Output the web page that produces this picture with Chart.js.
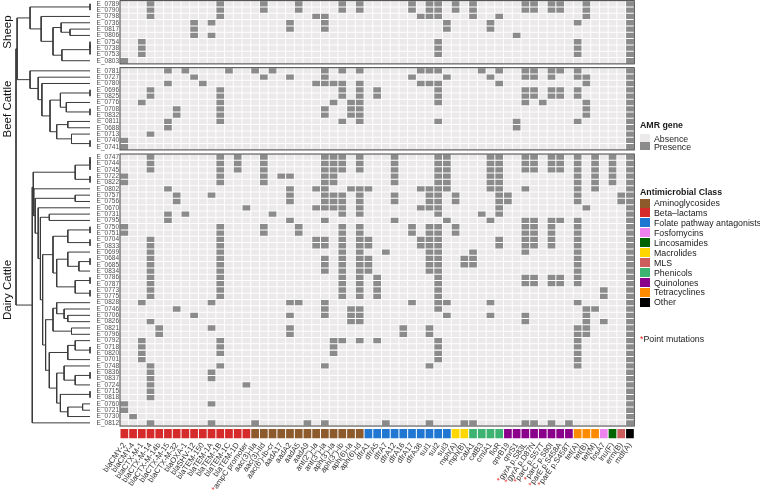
<!DOCTYPE html>
<html lang="en">
<head>
<meta charset="UTF-8">
<title>AMR gene heatmap</title>
<script src="https://cdn.jsdelivr.net/npm/chart.js"></script>
<style>
  body { margin: 0; width: 760px; height: 492px; position: relative; overflow: hidden; background: #fff;
         font-family: 'Liberation Sans', Arial, sans-serif; }
  #tree { position: absolute; left: 0; top: 0; }
  #heat { position: absolute; left: 60px; top: 0; }
  .host { position: absolute; left: 7px; transform: translate(-50%, -50%) rotate(-90deg); font-size: 11.5px; color: #111; white-space: nowrap; }
  .lg { position: absolute; left: 640px; font-size: 8.8px; color: #1a1a1a; white-space: nowrap; line-height: 1; }
  .lg b { font-weight: bold; }
  .sw { position: absolute; left: 0; width: 10px; }
</style>
</head>
<body>
<canvas id="tree" width="95" height="492"></canvas>
<canvas id="heat" width="586" height="492"></canvas>
<script>
Chart.defaults.font.family = "'Liberation Sans', Arial, sans-serif";

// columns (genes / point mutations)
const genes = ['blaCMY-2', 'blaCMY-4', 'blaCTX-M-1', 'blaCTX-M-14', 'blaCTX-M-14b', 'blaCTX-M-15', 'blaCTX-M-32',
  'blaOXA-1', 'blaSHV-12', 'blaTEM-150', 'blaTEM-1A', 'blaTEM-1B', 'blaTEM-1C', 'blaTEM-1D', 'ampC promoter',
  "aac(3)-IIa", "aac(3)-IId", "aac(6')-Ib-cr", 'aadA17', 'aadA2', 'aadA5', 'aadA9', "ant(2'')-Ia", "ant(3'')-Ia",
  "aph(3')-Ia", "aph(3'')-Ib", 'aph(6)-Ia', 'aph(6)-Id',
  'dfrA1', 'dfrA5', 'dfrA7', 'dfrA12', 'dfrA16', 'dfrA17', 'dfrA36', 'sul1', 'sul2', 'sul3',
  'mph(A)', 'mph(B)', 'catA1', 'catB3', 'cmlA1', 'floR',
  'qnrB19', 'qnrS1', 'gyrA p.S83L', 'gyrA p.D87N', 'parC p.S57T', 'parC p.S80I', 'parE p.S458A', 'parE p.S458T',
  'tet(A)', 'tet(B)', 'tet(M)', 'fosA7', 'lnu(F)', 'erm(B)', 'mdf(A)'];

const pointMutations = ['ampC promoter', 'gyrA p.S83L', 'gyrA p.D87N', 'parC p.S57T', 'parC p.S80I', 'parE p.S458A', 'parE p.S458T'];

const classNames = ['Aminoglycosides', 'Beta\u2013lactams', 'Folate pathway antagonists', 'Fosfomycins', 'Lincosamides',
  'Macrolides', 'MLS', 'Phenicols', 'Quinolones', 'Tetracyclines', 'Other'];
const classColors = ['#8c5a2b', '#d62b2b', '#1f77d2', '#ee82ee', '#006400', '#ffd700', '#cd5c5c', '#3cb371', '#8b008b', '#ff8c00', '#000000'];

// class index of each gene (same order as genes)
const geneClass = [1, 1, 1, 1, 1, 1, 1, 1, 1, 1, 1, 1, 1, 1, 1,
  0, 0, 0, 0, 0, 0, 0, 0, 0, 0, 0, 0, 0,
  2, 2, 2, 2, 2, 2, 2, 2, 2, 2,
  5, 5, 7, 7, 7, 7,
  8, 8, 8, 8, 8, 8, 8, 8,
  9, 9, 9, 3, 4, 6, 10];

// isolates (rows) and the genes present in each (column indices)
const sheepIsolates = ['E_0789', 'E_0790', 'E_0798', 'E_0736', 'E_0817', 'E_0806', 'E_0754', 'E_0738', 'E_0753', 'E_0803'];
const sheepGenes = [
  [3, 11, 16, 20, 25, 27, 33, 35, 36, 38, 40, 46, 47, 49, 50, 53, 58],
  [3, 11, 16, 20, 25, 27, 33, 35, 36, 38, 40, 46, 47, 49, 50, 53, 58],
  [3, 11, 22, 23, 34, 35, 36, 40, 43, 53, 58],
  [8, 10, 19, 23, 37, 42, 52, 58],
  [8, 19, 23, 37, 42, 58],
  [8, 10, 45, 58],
  [2, 36, 52, 58],
  [2, 36, 52, 58],
  [2, 36, 52, 58],
  [0, 58]];

const beefIsolates = ['E_0781', 'E_0727', 'E_0780', 'E_0696', 'E_0825', 'E_0776', 'E_0708', 'E_0832', 'E_0811', 'E_0688',
  'E_0713', 'E_0740', 'E_0741'];
const beefGenes = [
  [5, 7, 12, 15, 17, 23, 25, 27, 34, 35, 36, 41, 43, 46, 47, 49, 50, 52, 58],
  [8, 16, 19, 23, 33, 37, 42, 46, 47, 49, 52, 53, 58],
  [5, 9, 22, 23, 24, 25, 27, 34, 35, 36, 43, 53, 58],
  [3, 11, 25, 27, 29, 36, 46, 47, 49, 50, 52, 58],
  [3, 11, 25, 27, 29, 36, 46, 47, 49, 50, 52, 58],
  [2, 11, 24, 26, 27, 36, 46, 48, 53, 58],
  [6, 11, 23, 26, 27, 53, 58],
  [6, 11, 23, 26, 27, 53, 58],
  [5, 11, 25, 27, 36, 45, 52, 58],
  [5, 45, 58],
  [3, 58],
  [0, 58],
  [0, 58]];

const dairyIsolates = ['E_0747', 'E_0744', 'E_0745', 'E_0722', 'E_0822', 'E_0802', 'E_0757', 'E_0756', 'E_0670', 'E_0731',
  'E_0795', 'E_0750', 'E_0751', 'E_0704', 'E_0833', 'E_0699', 'E_0684', 'E_0685', 'E_0834', 'E_0786', 'E_0787', 'E_0773',
  'E_0775', 'E_0828', 'E_0746', 'E_0706', 'E_0826', 'E_0821', 'E_0796', 'E_0792', 'E_0718', 'E_0820', 'E_0701', 'E_0748',
  'E_0836', 'E_0837', 'E_0724', 'E_0715', 'E_0818', 'E_0760', 'E_0721', 'E_0730', 'E_0812'];
const dairyGenes = [
  [3, 11, 13, 16, 23, 24, 25, 27, 31, 36, 37, 42, 43, 46, 47, 49, 50, 52, 54, 56, 58],
  [3, 11, 13, 16, 23, 24, 25, 27, 31, 36, 37, 42, 43, 46, 47, 49, 50, 52, 54, 56, 58],
  [3, 11, 13, 16, 23, 24, 25, 27, 31, 36, 37, 42, 43, 46, 47, 49, 50, 52, 54, 56, 58],
  [0, 11, 16, 18, 19, 23, 24, 31, 36, 37, 42, 43, 52, 54, 56, 58],
  [0, 11, 16, 23, 24, 31, 36, 37, 42, 43, 52, 54, 56, 58],
  [5, 19, 22, 23, 26, 27, 28, 34, 35, 36, 37, 42, 43, 46, 52, 54, 58],
  [6, 10, 19, 23, 24, 25, 27, 31, 35, 36, 38, 43, 44, 52, 57, 58],
  [6, 19, 23, 24, 25, 27, 31, 35, 36, 38, 43, 44, 52, 57, 58],
  [14, 22, 23, 24, 25, 27, 34, 35, 36, 43, 53, 58],
  [5, 7, 17, 25, 27, 36, 41, 43, 58],
  [5, 19, 23, 31, 37, 42, 46, 47, 49, 50, 52, 58],
  [0, 11, 16, 20, 25, 27, 33, 35, 36, 38, 46, 47, 49, 52, 58],
  [0, 11, 16, 20, 25, 27, 33, 35, 36, 38, 46, 47, 49, 52, 58],
  [3, 11, 22, 23, 25, 27, 28, 34, 35, 36, 43, 46, 47, 49, 52, 58],
  [3, 11, 22, 23, 25, 27, 28, 34, 35, 36, 43, 46, 47, 49, 52, 58],
  [3, 11, 25, 27, 30, 35, 36, 40, 46, 52, 58],
  [3, 11, 23, 25, 27, 28, 35, 36, 39, 40, 52, 58],
  [3, 11, 23, 25, 27, 28, 35, 36, 39, 40, 52, 58],
  [3, 11, 23, 25, 27, 28, 35, 36, 52, 58],
  [3, 11, 25, 27, 29, 36, 46, 47, 49, 50, 52, 58],
  [3, 11, 25, 27, 29, 36, 46, 47, 49, 50, 52, 58],
  [3, 11, 25, 27, 29, 36, 55, 58],
  [3, 11, 25, 27, 29, 36, 55, 58],
  [2, 10, 19, 20, 23, 33, 36, 37, 42, 52, 58],
  [6, 23, 26, 27, 36, 53, 54, 58],
  [8, 19, 23, 26, 27, 37, 42, 46, 53, 58],
  [3, 26, 27, 46, 53, 55, 58],
  [4, 10, 19, 32, 35, 52, 53, 58],
  [4, 19, 32, 35, 52, 53, 58],
  [2, 11, 24, 25, 27, 29, 36, 52, 58],
  [2, 11, 24, 36, 52, 58],
  [2, 11, 24, 36, 52, 58],
  [2, 36, 52, 58],
  [3, 11, 23, 35, 52, 58],
  [3, 10, 58],
  [3, 10, 58],
  [3, 14, 58],
  [3, 58],
  [3, 58],
  [0, 10, 58],
  [0, 58],
  [1, 58],
  [3, 10, 15, 21, 23, 30, 35, 39, 40, 46, 47, 49, 51, 58]];

// dendrogram: [merge height, left, right], leaves are isolate names
const sheepTree = [0.81, [0, 'E_0789', 'E_0790'],
  [0.66, 'E_0798', [0.5, [0.39, 'E_0736', [0.27, 'E_0817', 'E_0806']],
    [0.38, [0, [0, 'E_0754', 'E_0738'], 'E_0753'], 'E_0803']]]];
const beefTree = [0.81, 'E_0781', [0.7, 'E_0727', [0.65, 'E_0780',
  [0.54, [0.4, [0, 'E_0696', 'E_0825'], [0.32, 'E_0776', [0, 'E_0708', 'E_0832']]],
    [0.45, [0.3, 'E_0811', 'E_0688'], [0.25, 'E_0713', [0, 'E_0740', 'E_0741']]]]]]];
const dairyTop = [0.2, [0, [0, 'E_0747', 'E_0744'], 'E_0745'], [0, 'E_0722', 'E_0822']];
const dairyMid = [0.5, [0.3, [0, 'E_0750', 'E_0751'], [0, 'E_0704', 'E_0833']],
  [0.45, [0.3, 'E_0699', [0.15, [0, 'E_0684', 'E_0685'], 'E_0834']], [0.2, [0, 'E_0786', 'E_0787'], [0, 'E_0773', 'E_0775']]]];
const dairyLowA = [0.5, [0.45, 'E_0828', [0.35, 'E_0746', [0.3, 'E_0706', 'E_0826']]], [0.25, 'E_0821', 'E_0796']];
const dairyLowB = [0.55, [0.3, [0.2, 'E_0792', [0, 'E_0718', 'E_0820']], 'E_0701'],
  [0.45, [0.35, 'E_0748', [0.2, [0, 'E_0836', 'E_0837'], 'E_0724']],
    [0.4, [0, 'E_0715', 'E_0818'], [0.3, [0.1, 'E_0760', 'E_0721'], 'E_0730']]]];
const dairyRest = [0.7, 'E_0670', [0.67, [0.55, 'E_0731', 'E_0795'], [0.64, dairyMid, [0.6, dairyLowA, dairyLowB]]]];
const dairyMain = [0.77, dairyTop, [0.76, 'E_0802', [0.74, [0.2, 'E_0757', 'E_0756'], dairyRest]]];
const dairyTree = [0.78, dairyMain, 'E_0812'];
const rootTree = [1.0, [0.985, sheepTree, beefTree], dairyTree];

// ---- layout of the row axis (in row units) ----
const hosts = [
  { name: 'Sheep', isolates: sheepIsolates, genes: sheepGenes, start: 0 },
  { name: 'Beef Cattle', isolates: beefIsolates, genes: beefGenes, start: 10.6 },
  { name: 'Dairy Cattle', isolates: dairyIsolates, genes: dairyGenes, start: 24.25 }
];
const barTop = 67.72, barBottom = 69.2;
const yMin = -0.1, yMax = 69.3;

const rows = [];
hosts.forEach(h => {
  h.isolates.forEach((iso, i) => {
    rows.push({ iso: iso, genes: h.genes[i], top: h.start + i });
  });
});
const rowCenter = {};
rows.forEach(r => { rowCenter[r.iso] = r.top + 0.5; });

const ABSENT = '#ebe9e9';
const PRESENT = '#8b8b8b';

const cellSets = rows.map(r => ({
  data: genes.map(() => [r.top + 0.08, r.top + 0.92]),
  backgroundColor: genes.map((g, c) => (r.genes.includes(c) ? PRESENT : ABSENT))
}));
const classBar = {
  data: genes.map(() => [barTop, barBottom]),
  backgroundColor: geneClass.map(k => classColors[k])
};

const panelBorders = {
  id: 'panelBorders',
  afterDatasetsDraw(chart) {
    const ctx = chart.ctx;
    const a = chart.chartArea;
    const y = chart.scales.y;
    ctx.save();
    ctx.strokeStyle = '#3f3f3f';
    ctx.lineWidth = 1;
    hosts.forEach(h => {
      const t = y.getPixelForValue(h.start);
      const b = y.getPixelForValue(h.start + h.isolates.length);
      ctx.strokeRect(a.left, t, a.right - a.left, b - t);
    });
    ctx.restore();
  }
};

const mutationStars = {
  id: 'mutationStars',
  afterDraw(chart) {
    const ctx = chart.ctx;
    const items = chart.scales.x.getLabelItems();
    items.forEach(it => {
      if (!pointMutations.includes(it.label)) return;
      const tx = it.options.translation[0];
      const ty = it.options.translation[1];
      ctx.save();
      ctx.translate(tx, ty);
      ctx.rotate(it.options.rotation);
      ctx.font = it.font.string;
      const w = ctx.measureText(it.label).width;
      ctx.textAlign = 'right';
      ctx.textBaseline = it.options.textBaseline;
      ctx.fillStyle = '#e8261f';
      ctx.fillText('*', -w - 0.3, it.textOffset);
      ctx.restore();
    });
  }
};

const heat = new Chart(document.getElementById('heat'), {
  type: 'bar',
  data: { labels: genes, datasets: cellSets.concat([classBar]) },
  options: {
    responsive: false,
    animation: false,
    layout: { padding: { left: 0, right: 11.7, top: 0, bottom: 0 } },
    plugins: { legend: { display: false }, tooltip: { enabled: false } },
    datasets: { bar: { grouped: false, barPercentage: 1, categoryPercentage: 0.885, borderWidth: 0 } },
    scales: {
      x: {
        type: 'category',
        offset: true,
        grid: { display: false, drawTicks: false },
        border: { display: false },
        ticks: { autoSkip: false, minRotation: 55, maxRotation: 55, padding: 2, color: '#333333', font: { size: 7.8 } },
        afterFit: function (s) { s.height = 53; s.paddingLeft = 0; s.paddingRight = 0; }
      },
      y: {
        type: 'linear',
        min: yMin,
        max: yMax,
        reverse: true,
        grid: { display: false, drawTicks: false },
        border: { display: false },
        afterBuildTicks: function (s) { s.ticks = rows.map(r => ({ value: r.top + 0.5 })); },
        ticks: {
          autoSkip: false, padding: 1, color: '#4d4d4d', font: { size: 6.5 },
          callback: function (v, i) { return rows[i] ? rows[i].iso : ''; }
        },
        afterFit: function (s) { s.width = 60; s.paddingTop = 0; s.paddingBottom = 0; }
      }
    }
  },
  plugins: [panelBorders, mutationStars]
});

// ---- dendrogram ----
const segments = [];
function placeNode(node) {
  if (typeof node === 'string') return { h: 0, y: rowCenter[node] };
  const h = node[0];
  const L = placeNode(node[1]);
  const R = placeNode(node[2]);
  segments.push([{ x: L.h, y: L.y }, { x: h, y: L.y }, { x: h, y: R.y }, { x: R.h, y: R.y }]);
  return { h: h, y: (L.y + R.y) / 2 };
}
placeNode(rootTree);

new Chart(document.getElementById('tree'), {
  type: 'scatter',
  data: {
    datasets: segments.map(s => ({
      data: s, showLine: true, borderColor: '#3a3a3a', borderWidth: 1,
      pointRadius: 0, tension: 0, clip: false
    }))
  },
  options: {
    responsive: false,
    animation: false,
    layout: { padding: { left: 16, right: 5, top: 0, bottom: 53 } },
    plugins: { legend: { display: false }, tooltip: { enabled: false } },
    scales: {
      x: { type: 'linear', min: 0, max: 1, reverse: true, display: false },
      y: { type: 'linear', min: yMin, max: yMax, reverse: true, display: false }
    }
  }
});

// ---- host labels and legends (html text) ----
const body = document.body;
hosts.forEach(h => {
  const d = document.createElement('div');
  d.className = 'host';
  d.textContent = h.name;
  d.style.top = heat.scales.y.getPixelForValue(h.start + h.isolates.length / 2) + 'px';
  body.appendChild(d);
});

function addLegendLine(top, html, swatch) {
  const d = document.createElement('div');
  d.className = 'lg';
  d.style.top = top + 'px';
  if (swatch) {
    d.style.paddingLeft = '14px';
    const s = document.createElement('span');
    s.className = 'sw';
    s.style.background = swatch.color;
    s.style.top = swatch.dy + 'px';
    s.style.height = swatch.h + 'px';
    d.appendChild(s);
  }
  const t = document.createElement('span');
  t.innerHTML = html;
  d.appendChild(t);
  body.appendChild(d);
}
addLegendLine(120.5, '<b>AMR gene</b>');
addLegendLine(134.5, 'Absence', { color: ABSENT, dy: -0.5, h: 8 });
addLegendLine(142.5, 'Presence', { color: PRESENT, dy: -0.5, h: 8 });
addLegendLine(187.5, '<b>Antimicrobial Class</b>');
classNames.forEach((n, i) => addLegendLine(199 + i * 9.94, n, { color: classColors[i], dy: -0.5, h: 9 }));
addLegendLine(334.5, '<span style="color:#e8261f">*</span>Point mutations');
</script>
</body>
</html>
